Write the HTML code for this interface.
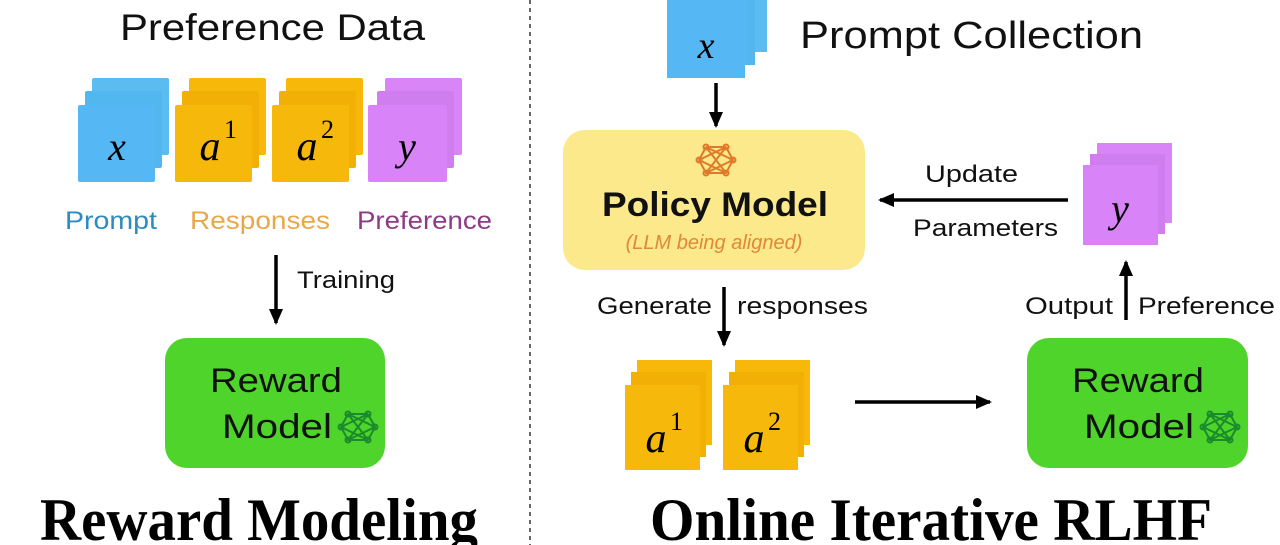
<!DOCTYPE html>
<html><head><meta charset="utf-8"><style>
html,body{margin:0;padding:0;background:#fff;}
svg{display:block}
.ss{font-family:"Liberation Sans",sans-serif;}
.s{font-family:"Liberation Serif",serif;font-style:italic;}
.sr{font-family:"Liberation Serif",serif;}
</style></head><body>
<svg width="1280" height="545" viewBox="0 0 1280 545" xmlns="http://www.w3.org/2000/svg">
<defs>
<marker id="ah" markerWidth="16" markerHeight="16" refX="14" refY="8" orient="auto" markerUnits="userSpaceOnUse"><path d="M0,1 L16,8 L0,15 z"/></marker>
<g id="net" fill="none" stroke-width="2">
<circle cx="-10" cy="-13" r="2.5"/><circle cx="10" cy="-13" r="2.5"/><circle cx="-17" cy="0" r="2.5"/><circle cx="17" cy="0" r="2.5"/><circle cx="-10" cy="13" r="2.5"/><circle cx="10" cy="13" r="2.5"/>
<path d="M-10,-13 L10,-13 M-10,-13 L-17,0 L-10,13 L10,13 L17,0 L10,-13 M-10,-13 L17,0 M10,-13 L-17,0 M-17,0 L10,13 M17,0 L-10,13 M-10,-13 L10,13 M10,-13 L-10,13"/>
</g>
</defs>
<line x1="530" y1="0" x2="530" y2="545" stroke="#333" stroke-width="1.5" stroke-dasharray="4,4"/>

<!-- LEFT -->
<text class="ss" x="120" y="40" font-size="37" fill="#111" textLength="305" lengthAdjust="spacingAndGlyphs">Preference Data</text>
<rect x="92" y="78" width="77" height="77" fill="#5bbcf2" rx="2"/>
<rect x="85" y="91" width="77" height="77" fill="#52b6ef" rx="2"/>
<rect x="78" y="105" width="77" height="77" fill="#55b8f5" rx="2"/>
<text class="s" x="117" y="160" font-size="40" text-anchor="middle">x</text>
<rect x="189" y="78" width="77" height="77" fill="#f7b80a" rx="2"/>
<rect x="182" y="91" width="77" height="77" fill="#f2b007" rx="2"/>
<rect x="175" y="105" width="77" height="77" fill="#f6b80a" rx="2"/>
<text class="s" x="210" y="160" font-size="42" text-anchor="middle">a</text>
<text class="sr" x="224" y="138" font-size="26">1</text>
<rect x="286" y="78" width="77" height="77" fill="#f7b80a" rx="2"/>
<rect x="279" y="91" width="77" height="77" fill="#f2b007" rx="2"/>
<rect x="272" y="105" width="77" height="77" fill="#f6b80a" rx="2"/>
<text class="s" x="307" y="160" font-size="42" text-anchor="middle">a</text>
<text class="sr" x="321" y="138" font-size="26">2</text>
<rect x="385" y="78" width="77" height="77" fill="#d985f7" rx="2"/>
<rect x="377" y="91" width="77" height="77" fill="#d07df0" rx="2"/>
<rect x="368" y="105" width="79" height="77" fill="#d884f8" rx="2"/>
<text class="s" x="407" y="160" font-size="40" text-anchor="middle">y</text>
<text class="ss" x="65" y="229" font-size="25" fill="#2a8cc0" textLength="92" lengthAdjust="spacingAndGlyphs">Prompt</text>
<text class="ss" x="190" y="229" font-size="25" fill="#e8a84a" textLength="140" lengthAdjust="spacingAndGlyphs">Responses</text>
<text class="ss" x="357" y="229" font-size="25" fill="#8e3a86" textLength="135" lengthAdjust="spacingAndGlyphs">Preference</text>
<line x1="276" y1="255" x2="276" y2="323" stroke="#000" stroke-width="3.5" marker-end="url(#ah)"/>
<text class="ss" x="297" y="288" font-size="24" fill="#111" textLength="98" lengthAdjust="spacingAndGlyphs">Training</text>
<rect x="165" y="338" width="220" height="130" rx="22" fill="#4fd42c"/>
<text class="ss" x="210" y="392" font-size="34" fill="#111" textLength="132" lengthAdjust="spacingAndGlyphs">Reward</text>
<text class="ss" x="222" y="438" font-size="34" fill="#111" textLength="110" lengthAdjust="spacingAndGlyphs">Model</text>
<use href="#net" x="358" y="427" stroke="#1a8a2a"/>
<text class="sr" x="40" y="540" font-size="60" font-weight="bold" textLength="438" lengthAdjust="spacingAndGlyphs">Reward Modeling</text>

<!-- RIGHT -->
<rect x="689" y="-14" width="78" height="66" fill="#5bbcf2"/>
<rect x="677" y="-2" width="78" height="67" fill="#52b6ef"/>
<rect x="667" y="0" width="78" height="78" fill="#55b8f5"/>
<text class="s" x="706" y="58" font-size="38" text-anchor="middle">x</text>
<text class="ss" x="800" y="48" font-size="38" fill="#111" textLength="343" lengthAdjust="spacingAndGlyphs">Prompt Collection</text>
<line x1="716" y1="83" x2="716" y2="126" stroke="#000" stroke-width="3.5" marker-end="url(#ah)"/>
<rect x="563" y="130" width="302" height="140" rx="22" fill="#fbe98c"/>
<use href="#net" x="716" y="160" stroke="#e07a2a"/>
<text class="ss" x="602" y="216" font-size="34" font-weight="bold" fill="#111" textLength="226" lengthAdjust="spacingAndGlyphs">Policy Model</text>
<text class="ss" x="714" y="249" font-size="20" font-style="italic" text-anchor="middle" fill="#e0873a">(LLM being aligned)</text>
<line x1="1068" y1="200" x2="880" y2="200" stroke="#000" stroke-width="3.5" marker-end="url(#ah)"/>
<text class="ss" x="925" y="182" font-size="24" fill="#111" textLength="93" lengthAdjust="spacingAndGlyphs">Update</text>
<text class="ss" x="913" y="236" font-size="24" fill="#111" textLength="145" lengthAdjust="spacingAndGlyphs">Parameters</text>
<rect x="1097" y="143" width="75" height="80" fill="#d985f7"/>
<rect x="1090" y="154" width="75" height="80" fill="#d07df0"/>
<rect x="1083" y="165" width="75" height="80" fill="#d884f8"/>
<text class="s" x="1120" y="222" font-size="40" text-anchor="middle">y</text>
<line x1="724" y1="287" x2="724" y2="345" stroke="#000" stroke-width="3.5" marker-end="url(#ah)"/>
<text class="ss" x="597" y="314" font-size="24" fill="#111" textLength="115" lengthAdjust="spacingAndGlyphs">Generate</text>
<text class="ss" x="737" y="314" font-size="24" fill="#111" textLength="131" lengthAdjust="spacingAndGlyphs">responses</text>
<rect x="637" y="360" width="75" height="85" fill="#f7b80a"/>
<rect x="631" y="372" width="75" height="85" fill="#f2b007"/>
<rect x="625" y="385" width="75" height="85" fill="#f6b80a"/>
<text class="s" x="656" y="452" font-size="42" text-anchor="middle">a</text>
<text class="sr" x="670" y="430" font-size="26">1</text>
<rect x="735" y="360" width="75" height="85" fill="#f7b80a"/>
<rect x="729" y="372" width="75" height="85" fill="#f2b007"/>
<rect x="723" y="385" width="75" height="85" fill="#f6b80a"/>
<text class="s" x="754" y="452" font-size="42" text-anchor="middle">a</text>
<text class="sr" x="768" y="430" font-size="26">2</text>
<line x1="855" y1="402" x2="990" y2="402" stroke="#000" stroke-width="3.5" marker-end="url(#ah)"/>
<line x1="1126" y1="320" x2="1126" y2="262" stroke="#000" stroke-width="3.5" marker-end="url(#ah)"/>
<text class="ss" x="1025" y="314" font-size="24" fill="#111" textLength="88" lengthAdjust="spacingAndGlyphs">Output</text>
<text class="ss" x="1138" y="314" font-size="24" fill="#111" textLength="137" lengthAdjust="spacingAndGlyphs">Preference</text>
<rect x="1027" y="338" width="221" height="130" rx="22" fill="#4fd42c"/>
<text class="ss" x="1072" y="392" font-size="34" fill="#111" textLength="132" lengthAdjust="spacingAndGlyphs">Reward</text>
<text class="ss" x="1084" y="438" font-size="34" fill="#111" textLength="110" lengthAdjust="spacingAndGlyphs">Model</text>
<use href="#net" x="1220" y="427" stroke="#1a8a2a"/>
<text class="sr" x="650" y="540" font-size="60" font-weight="bold" textLength="562" lengthAdjust="spacingAndGlyphs">Online Iterative RLHF</text>
</svg>
</body></html>
